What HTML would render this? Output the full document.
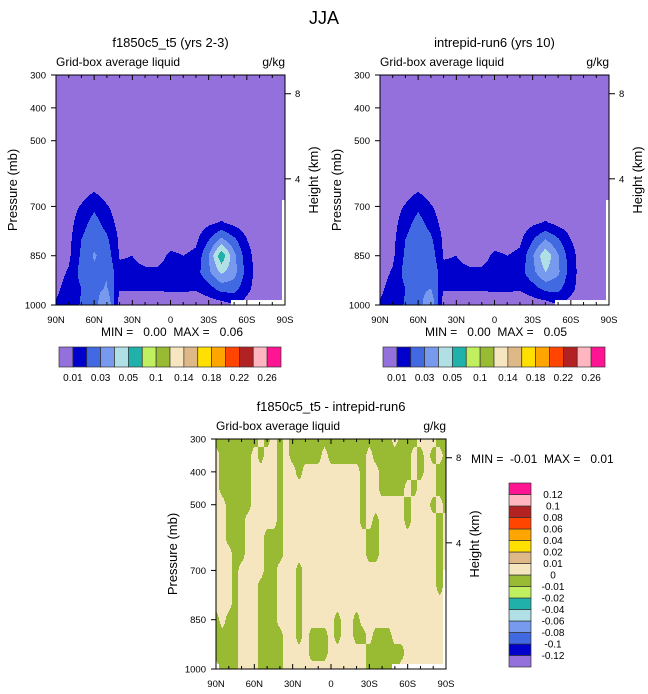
<!DOCTYPE html>
<html><head><meta charset="utf-8"><title>JJA Grid-box average liquid</title>
<style>
html,body{margin:0;padding:0;background:#fff;}
svg{display:block;font-family:"Liberation Sans",Arial,sans-serif;}
.pre{white-space:pre;}
</style></head>
<body>
<svg id="fig" width="648" height="694" viewBox="0 0 648 694" xmlns="http://www.w3.org/2000/svg">
<text x="324" y="24" font-size="18" text-anchor="middle">JJA</text>
</svg>
<script>
// ---------- data ----------
const latTicks = [90,60,30,0,-30,-60,-90];
const latTickLabels = ["90N","60N","30N","0","30S","60S","90S"];
const presTicks = [300,400,500,700,850,1000];
const presTickLabels = ["300","400","500","700","850","1000"];
const heightTickPres = [357,616];
const heightTickLabels = ["8","4"];

const colors = ["#9370DB","#0000CD","#4169E1","#7799EE","#B0E0E6","#20B2AA","#C0F060","#99BB33","#F5E6C0","#DEB887","#FFE000","#FFA500","#FF4500","#B22222","#FFB6C1","#FF1493"];
const absBounds = [0.01,0.02,0.03,0.04,0.05,0.08,0.1,0.12,0.14,0.16,0.18,0.2,0.22,0.24,0.26];
const absLabels = ["0.01","","0.03","","0.05","","0.1","","0.14","","0.18","","0.22","","0.26"];
const diffBounds = [-0.12,-0.1,-0.08,-0.06,-0.04,-0.02,-0.01,0,0.01,0.02,0.04,0.06,0.08,0.1,0.12];
const diffLabels = ["-0.12","-0.1","-0.08","-0.06","-0.04","-0.02","-0.01","0","0.01","0.02","0.04","0.06","0.08","0.1","0.12"];

const topLats = [90,80,70,60,50,40,30,20,10,0,-10,-20,-30,-40,-50,-60,-70,-80,-90];
const topLevs = [300,400,500,600,650,700,750,800,850,900,950,1000];
const fieldA = [
 [.002,.002,.002,.002,.002,.002,.002,.002,.002,.002,.002,.002,.002,.002,.002,.002,.002,.002,.002],
 [.002,.002,.002,.002,.002,.002,.002,.002,.002,.002,.002,.002,.002,.002,.002,.002,.002,.002,.002],
 [.002,.002,.002,.002,.002,.002,.002,.002,.002,.002,.002,.002,.002,.002,.002,.002,.002,.002,.002],
 [.003,.003,.003,.003,.003,.003,.003,.003,.003,.003,.003,.003,.003,.003,.003,.003,.003,.003,.003],
 [.003,.003,.005,.009,.004,.003,.003,.003,.003,.003,.003,.003,.003,.003,.003,.003,.003,.003,.003],
 [.003,.005,.011,.018,.011,.004,.003,.003,.003,.003,.003,.003,.003,.003,.003,.003,.003,.003,.003],
 [.003,.006,.016,.024,.016,.006,.004,.003,.003,.003,.003,.004,.008,.011,.007,.004,.003,.003,.003],
 [.004,.007,.020,.027,.022,.008,.005,.004,.004,.005,.006,.008,.019,.032,.022,.010,.004,.003,.003],
 [.005,.008,.022,.031,.026,.009,.010,.006,.006,.012,.010,.012,.030,.058,.033,.014,.004,.003,.003],
 [.006,.011,.024,.028,.029,.013,.013,.012,.012,.014,.014,.016,.028,.042,.034,.016,.004,.003,.003],
 [.008,.014,.020,.027,.031,.011,.011,.011,.011,.012,.012,.011,.016,.024,.024,.013,.004,.003,.003],
 [.011,.015,.021,.025,.042,.004,.003,.003,.003,.003,.003,.003,.004,.005,.010,.006,.003,.003,.003]
];
const fieldB = [
 [.002,.002,.002,.002,.002,.002,.002,.002,.002,.002,.002,.002,.002,.002,.002,.002,.002,.002,.002],
 [.002,.002,.002,.002,.002,.002,.002,.002,.002,.002,.002,.002,.002,.002,.002,.002,.002,.002,.002],
 [.002,.002,.002,.002,.002,.002,.002,.002,.002,.002,.002,.002,.002,.002,.002,.002,.002,.002,.002],
 [.003,.003,.003,.003,.003,.003,.003,.003,.003,.003,.003,.003,.003,.003,.003,.003,.003,.003,.003],
 [.003,.003,.005,.009,.004,.003,.003,.003,.003,.003,.003,.003,.003,.003,.003,.003,.003,.003,.003],
 [.003,.005,.011,.018,.011,.004,.003,.003,.003,.003,.003,.003,.003,.003,.003,.003,.003,.003,.003],
 [.003,.006,.016,.024,.016,.006,.004,.003,.003,.003,.003,.004,.008,.011,.007,.004,.003,.003,.003],
 [.004,.007,.020,.027,.022,.008,.005,.004,.004,.005,.006,.008,.019,.030,.021,.010,.004,.003,.003],
 [.005,.008,.022,.030,.026,.009,.010,.006,.006,.012,.010,.012,.029,.048,.031,.014,.004,.003,.003],
 [.006,.011,.024,.028,.029,.013,.013,.012,.012,.014,.014,.016,.027,.040,.032,.015,.004,.003,.003],
 [.008,.014,.020,.027,.030,.011,.011,.011,.011,.012,.012,.011,.016,.023,.023,.013,.004,.003,.003],
 [.011,.015,.021,.025,.040,.004,.003,.003,.003,.003,.003,.003,.004,.005,.010,.006,.003,.003,.003]
];

const diffLats = [90,85,80,75,70,65,60,55,50,45,40,35,30,25,20,15,10,5,0,-5,-10,-15,-20,-25,-30,-35,-40,-45,-50,-55,-60,-65,-70,-75,-80,-85,-90];
const diffLevs = [300,350,400,450,500,550,600,650,700,750,800,850,900,950,1000];
const diffScale = 0.001;
const fieldDiff = [
 [-2,-2,-2,-2,-2,-2,-2, 2,-2, 2,-2, 2,-2,-2,-2,-2,-2,-2,-2,-2,-2,-2,-2,-2,-2,-2,-2,-2, 2,-2,-2,-2, 2, 2, 2,-2,-2],
 [ 2,-2,-2,-2,-2,-2, 2,-2, 2, 2,-2, 2,-2,-2,-2,-2,-2, 2,-2,-2,-2,-2,-2,-2, 2,-2,-2,-2,-2,-2,-2, 2,-2, 2,-2, 2,-2],
 [ 2,-2,-2,-2,-2,-2, 2, 2, 2, 2,-2, 2, 2,-2, 2, 2, 2, 2, 2, 2, 2, 2, 2,-2, 2, 2,-2,-2,-2,-2,-2, 2,-2, 2, 2,-2,-2],
 [ 2,-2,-2,-2,-2,-2, 2, 2, 2, 2,-2, 2, 2, 2, 2, 2, 2, 2, 2, 2, 2, 2, 2,-2, 2, 2,-2,-2,-2,-2, 2,-2, 2, 2, 2,-2,-2],
 [ 2, 2,-2,-2,-2,-2, 2, 2, 2, 2,-2, 2, 2, 2, 2, 2, 2, 2, 2, 2, 2, 2, 2,-2, 2, 2, 2, 2, 2, 2,-2, 2, 2, 2,-2, 2,-2],
 [ 2, 2,-2,-2,-2, 2, 2, 2, 2, 2,-2, 2, 2, 2, 2, 2, 2, 2, 2, 2, 2, 2, 2,-2, 2,-2, 2, 2, 2, 2,-2, 2, 2, 2, 2,-2, 2],
 [ 2, 2,-2,-2,-2, 2, 2, 2,-2,-2,-2, 2, 2, 2, 2, 2, 2, 2, 2, 2, 2, 2, 2, 2,-2,-2, 2, 2, 2, 2, 2, 2, 2, 2, 2,-2, 2],
 [ 2, 2, 2,-2,-2, 2, 2, 2,-2,-2,-2, 2, 2, 2, 2, 2, 2, 2, 2, 2, 2, 2, 2, 2,-2,-2, 2, 2, 2, 2, 2, 2, 2, 2, 2,-2, 2],
 [ 2, 2, 2,-2, 2, 2, 2, 2,-2,-2, 2, 2, 2,-2, 2, 2, 2, 2, 2, 2, 2, 2, 2, 2, 2, 2, 2, 2, 2, 2, 2, 2, 2, 2, 2,-2, 2],
 [ 2, 2, 2,-2, 2, 2, 2,-2,-2,-2, 2, 2, 2,-2, 2, 2, 2, 2, 2, 2, 2, 2, 2, 2, 2, 2, 2, 2, 2, 2, 2, 2, 2, 2, 2,-2, 2],
 [ 2, 2, 2,-2, 2, 2, 2,-2,-2,-2, 2, 2, 2,-2, 2, 2, 2, 2, 2, 2, 2, 2, 2, 2, 2, 2, 2, 2, 2, 2, 2, 2, 2, 2, 2, 2, 2],
 [-2, 2,-2,-2, 2, 2, 2,-2,-2,-2, 2, 2, 2,-2, 2, 2, 2, 2, 2,-2, 2, 2,-2, 2, 2, 2, 2, 2, 2, 2, 2, 2, 2, 2, 2, 2, 2],
 [-2,-2,-2,-2, 2, 2, 2,-2,-2,-2,-2, 2, 2,-2, 2,-2,-2,-2, 2,-2, 2, 2,-2,-2, 2,-2,-2,-2, 2, 2, 2, 2, 2, 2, 2, 2, 2],
 [-2,-2,-2,-2, 2, 2, 2,-2,-2,-2,-2, 2, 2, 2, 2,-2,-2,-2, 2, 2, 2, 2, 2, 2,-2,-2,-2,-2,-2,-2, 2, 2, 2, 2, 2, 2, 2],
 [ 2,-2,-2,-2, 2, 2, 2,-2,-2,-2,-2, 2, 2, 2, 2, 2, 2, 2, 2, 2, 2, 2, 2, 2,-2,-2,-2,-2,-2, 2, 2, 2, 2, 2, 2, 2, 2]
];
// surface pressure (missing data below), at 5-degree latitudes 90N..90S
const psfcTop =  [1000,1000,1000,1000,1000,1000,1000,1000,1000,1000,1000,1000,1000,1000,1000,1000,1000,1000,1000,1000,1000,1000,1000,1000,1000,1000,1000,1000,985,985,985,985,985,985,985,985,680];
const psfcDiff = [985,1000,1000,1000,1000,1000,1000,1000,1000,1000,1000,1000,1000,1000,1000,1000,1000,1000,1000,1000,1000,1000,1000,1000,1000,1000,1000,1000,985,985,985,985,985,985,985,985,700];

// ---------- drawing ----------
const NS = "http://www.w3.org/2000/svg";
const svg = document.getElementById("fig");
function mk(tag, attrs, parent){const e=document.createElementNS(NS,tag);for(const k in attrs)e.setAttribute(k,attrs[k]);(parent||svg).appendChild(e);return e;}
function txt(str, attrs, parent){const e=mk("text",attrs,parent);e.textContent=str;return e;}

function interp(grid, lats, levs, lat, p, scale){
  const n=lats.length, dl=(lats[0]-lats[n-1])/(n-1);
  let fj=(lats[0]-lat)/dl; let j0=Math.min(Math.max(Math.floor(fj),0),n-2); let tj=fj-j0;
  let k0=0; while(k0<levs.length-2 && p>levs[k0+1]) k0++;
  let tk=(p-levs[k0])/(levs[k0+1]-levs[k0]); tk=Math.max(0,Math.min(1,tk));
  const a=grid[k0][j0],b=grid[k0][j0+1],c=grid[k0+1][j0],d=grid[k0+1][j0+1];
  return ((a*(1-tj)+b*tj)*(1-tk)+(c*(1-tj)+d*tj)*tk)*scale;
}
function classify(v,bounds){let i=0;while(i<bounds.length&&v>=bounds[i])i++;return i;}

function drawField(g, box, grid, lats, levs, scale, bounds, psfc){
  const {x0,y0,w,h}=box;
  for(let py=0;py<h;py++){
    const p=300+(py+0.5)*700/h;
    let runStart=0, runCls=null;
    const flush=(end)=>{
      if(runCls!==null && runCls>=0){
        const r=mk("rect",{x:x0+runStart,y:y0+py,width:end-runStart,height:1.05,fill:colors[runCls]},g);
        
        
      }
    };
    for(let px=0;px<w;px++){
      const lat=90-(px+0.5)*180/w;
      const si=Math.round((90-lat)/5);
      let cls;
      if(p>psfc[si]) cls=-1; else cls=classify(interp(grid,lats,levs,lat,p,scale),bounds);
      if(cls!==runCls){flush(px);runStart=px;runCls=cls;}
    }
    flush(w);
  }
}

function drawAxes(g, box, opts){
  const {x0,y0,w,h}=box;
  const X=lat=>x0+(90-lat)/180*w, Y=p=>y0+(p-300)/700*h;
  const frame=mk("rect",{x:x0,y:y0,width:w,height:h,fill:"none",stroke:"#000","stroke-width":1},g);
  
  
  for(let lat=90;lat>=-90;lat-=10){
    const major=(lat%30===0), L=major?5:3;
    mk("line",{x1:X(lat),x2:X(lat),y1:y0+h,y2:y0+h-L,stroke:"#000"},g);
    mk("line",{x1:X(lat),x2:X(lat),y1:y0,y2:y0+L,stroke:"#000"},g);
  }
  latTicks.forEach((lat,i)=>{
    const t=txt(latTickLabels[i],{x:X(lat),y:y0+h+18,"font-size":9.5,"text-anchor":"middle"},g);
    
    
  });
  presTicks.forEach((p,i)=>{
    mk("line",{x1:x0,x2:x0-5,y1:Y(p),y2:Y(p),stroke:"#000"},g);
    const t=txt(presTickLabels[i],{x:x0-10,y:Y(p)+3.5,"font-size":9.5,"text-anchor":"end"},g);
    
    
  });
  heightTickPres.forEach((p,i)=>{
    mk("line",{x1:x0+w,x2:x0+w+6,y1:Y(p),y2:Y(p),stroke:"#000"},g);
    const t=txt(heightTickLabels[i],{x:x0+w+10,y:Y(p)+3.5,"font-size":9.5},g);
    
    
  });
  const yt=txt("Pressure (mb)",{x:0,y:0,"font-size":13,"text-anchor":"middle",transform:`translate(${x0-39},${y0+h/2}) rotate(-90)`},g);
  
  
  const ht=txt("Height (km)",{x:0,y:0,"font-size":13,"text-anchor":"middle",transform:`translate(${x0+w+33},${y0+h/2-10}) rotate(-90)`},g);
  
  
  const lt=txt("Grid-box average liquid",{x:x0,y:y0-9,"font-size":12},g);
  
  
  const ut=txt("g/kg",{x:x0+w,y:y0-9,"font-size":12,"text-anchor":"end"},g);
  
  
  const tt=txt(opts.title,{x:x0+w/2,y:y0-28,"font-size":13,"text-anchor":"middle"},g);
  
  
}

function hColorbar(g,x0,y0,w,h,labels){
  const bw=w/colors.length;
  colors.forEach((c,i)=>{
    const r=mk("rect",{x:x0+i*bw,y:y0,width:bw,height:h,fill:c,stroke:"#333","stroke-width":0.7},g);
    
    
  });
  labels.forEach((s,i)=>{ if(!s) return;
    const t=txt(s,{x:x0+(i+1)*bw,y:y0+h+14,"font-size":10,"text-anchor":"middle"},g);
    
    
  });
}
function vColorbar(g,x0,y0,w,h,labels){
  const bh=h/colors.length;
  colors.forEach((c,i)=>{
    const r=mk("rect",{x:x0,y:y0+h-(i+1)*bh,width:w,height:bh,fill:c,stroke:"#333","stroke-width":0.7},g);
    
    
  });
  labels.forEach((s,i)=>{
    const t=txt(s,{x:x0+w+22,y:y0+h-(i+1)*bh+3.5,"font-size":10,"text-anchor":"middle"},g);
    
    
  });
}

function panel(name, box, grid, lats, levs, scale, bounds, psfc, title){
  const g=mk("g",{});
  
  
  drawField(g,box,grid,lats,levs,scale,bounds,psfc);
  drawAxes(g,box,{title});
  return g;
}

const gA=panel('panel-f1850c5-t5',{x0:56,y0:75,w:229,h:230},fieldA,topLats,topLevs,1,absBounds,psfcTop,"f1850c5_t5 (yrs 2-3)");
const mA=txt("MIN =   0.00  MAX =   0.06",{x:172,y:336,"font-size":12,"text-anchor":"middle","class":"pre"},gA);


hColorbar(gA,59,347,222,20,absLabels);

const gB=panel('panel-intrepid-run6',{x0:380,y0:75,w:229,h:230},fieldB,topLats,topLevs,1,absBounds,psfcTop,"intrepid-run6 (yrs 10)");
const mB=txt("MIN =   0.00  MAX =   0.05",{x:496,y:336,"font-size":12,"text-anchor":"middle","class":"pre"},gB);


hColorbar(gB,383,347,222,20,absLabels);

const gC=panel('panel-difference',{x0:216,y0:439,w:230,h:230},fieldDiff,diffLats,diffLevs,diffScale,diffBounds,psfcDiff,"f1850c5_t5 - intrepid-run6");
const mC=txt("MIN =  -0.01  MAX =   0.01",{x:471,y:463,"font-size":12,"class":"pre"},gC);


vColorbar(gC,509,483,22,184,diffLabels);
</script>
</body></html>
